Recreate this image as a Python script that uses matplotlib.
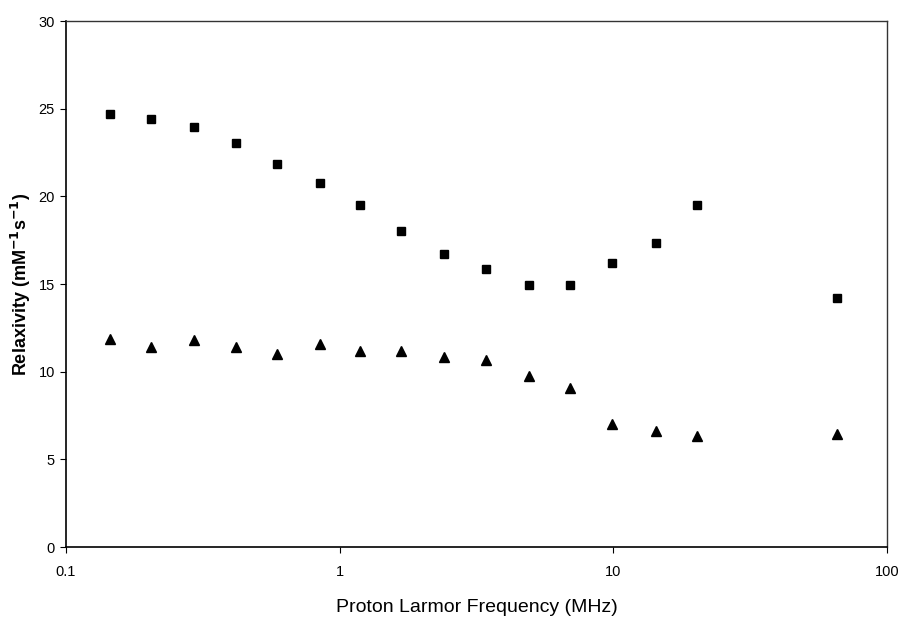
import matplotlib
matplotlib.use("Agg")
import matplotlib.pyplot as plt
from matplotlib.ticker import FixedLocator, NullLocator, FixedFormatter

plt.rcParams['font.family'] = ['Liberation Sans', 'DejaVu Sans']

freq = [0.145, 0.205, 0.294, 0.418, 0.590, 0.845, 1.19, 1.68, 2.40, 3.44,
        4.93, 6.97, 9.91, 14.3, 20.3, 65.9]
relax_square = [24.69, 24.40, 23.96, 23.07, 21.87, 20.75, 19.5, 18.0, 16.7, 15.85,
                14.95, 14.97, 16.19, 17.35, 19.5, 14.2]
relax_triangle = [11.86, 11.40, 11.80, 11.40, 11.00, 11.58, 11.17, 11.17, 10.83, 10.66,
                  9.75, 9.07, 7.00, 6.62, 6.33, 6.42]
x_ticks = [0.1, 1, 10, 100]
x_tick_labels = ["0.1", "1", "10", "100"]
y_ticks = [0, 5, 10, 15, 20, 25, 30]

fig = plt.figure(figsize=(9.01, 6.19), dpi=100)
ax = fig.add_axes([0.0733, 0.1163, 0.911, 0.8497])

ax.plot(freq, relax_square, linestyle='none', marker='s', markersize=6,
        color='black')
ax.plot(freq, relax_triangle, linestyle='none', marker='^', markersize=6.5,
        color='black')

ax.set_xscale('log')
ax.set_xlim(0.1, 100)
ax.set_ylim(0, 30)
ax.xaxis.set_major_locator(FixedLocator(x_ticks))
ax.xaxis.set_major_formatter(FixedFormatter(x_tick_labels))
ax.xaxis.set_minor_locator(NullLocator())
ax.set_yticks(y_ticks)
ax.tick_params(axis='both', direction='out', length=4, width=0.8,
               labelsize=10.5, pad=4)
ax.tick_params(axis='x', pad=9)

for s in ['left', 'bottom']:
    ax.spines[s].set_color('black')
    ax.spines[s].set_linewidth(1.2)
for s in ['top', 'right']:
    ax.spines[s].set_color('#333333')
    ax.spines[s].set_linewidth(1.0)

ax.set_xlabel('Proton Larmor Frequency (MHz)', fontsize=14, labelpad=14)
ax.set_ylabel('Relaxivity (mM$^{\\mathbf{-1}}$s$^{\\mathbf{-1}}$)', fontsize=13,
              fontweight='bold', labelpad=4)

fig.savefig('out.png', dpi=100, facecolor='white')
